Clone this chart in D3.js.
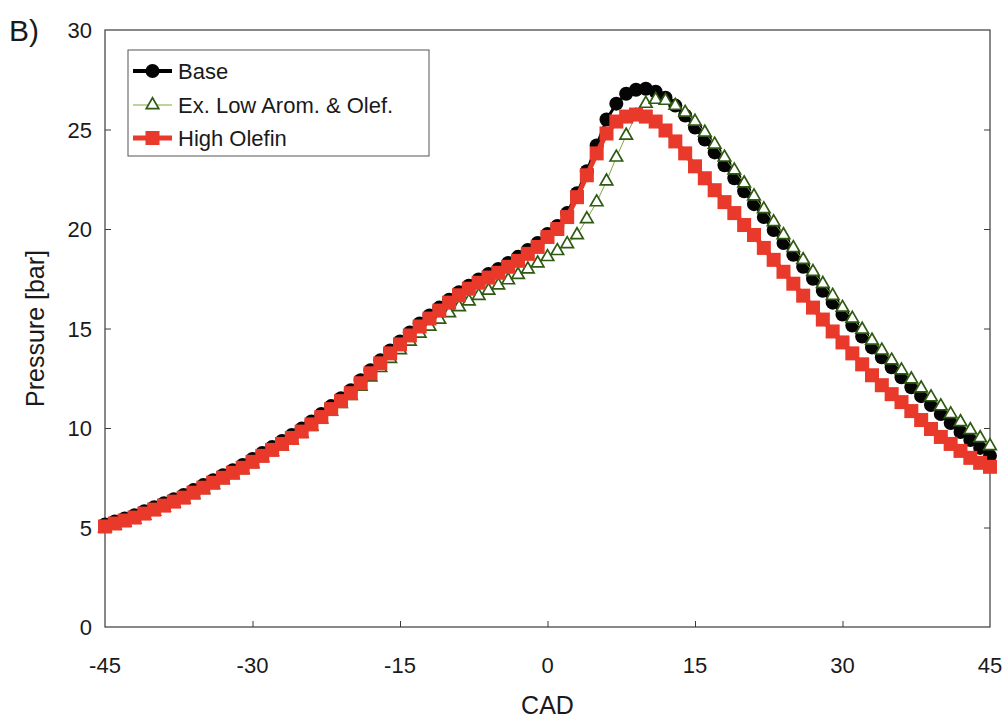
<!DOCTYPE html>
<html lang="en">

<head>
  <meta charset="UTF-8">
  <title>Pressure vs CAD</title>
  <style>
    body { margin: 0; background: #fff; }
    text { font-family: "Liberation Sans", Arial, sans-serif; fill: #1a1a1a; }
  </style>
</head>

<body>
  <div id="chart"></div>

  <script src="https://d3js.org/d3.v7.min.js"></script>

  <script>

    // crank angle positions
    const cad = [-45, -44, -43, -42, -41, -40, -39, -38, -37, -36, -35, -34, -33, -32, -31,
      -30, -29, -28, -27, -26, -25, -24, -23, -22, -21, -20, -19, -18, -17, -16,
      -15, -14, -13, -12, -11, -10, -9, -8, -7, -6, -5, -4, -3, -2, -1,
      0, 1, 2, 3, 4, 5, 6, 7, 8, 9, 10, 11, 12, 13, 14,
      15, 16, 17, 18, 19, 20, 21, 22, 23, 24, 25, 26, 27, 28, 29,
      30, 31, 32, 33, 34, 35, 36, 37, 38, 39, 40, 41, 42, 43, 44, 45]

    // pressure [bar]
    const base = [5.15, 5.3, 5.45, 5.62, 5.82, 6.02, 6.22, 6.42, 6.63, 6.88, 7.13, 7.38, 7.63, 7.88, 8.14,
      8.44, 8.74, 9.04, 9.35, 9.65, 9.97, 10.33, 10.7, 11.1, 11.5, 11.9, 12.4, 12.9, 13.4, 13.9,
      14.35, 14.8, 15.25, 15.65, 16.05, 16.45, 16.82, 17.15, 17.46, 17.74, 17.99, 18.29, 18.6, 18.95, 19.3,
      19.75, 20.15, 20.8, 21.8, 22.9, 24.2, 25.5, 26.3, 26.8, 27.0, 27.05, 26.9, 26.6, 26.2, 25.7,
      25.1, 24.5, 23.85, 23.2, 22.55, 21.9, 21.25, 20.6, 19.95, 19.3, 18.7, 18.1, 17.5, 16.9, 16.3,
      15.7, 15.15, 14.6, 14.05, 13.55, 13.05, 12.55, 12.05, 11.6, 11.15, 10.7, 10.25, 9.8, 9.4, 9.0, 8.6]

    const exLow = [4.97, 5.1, 5.25, 5.4, 5.6, 5.8, 6.0, 6.2, 6.4, 6.65, 6.9, 7.15, 7.4, 7.65, 7.9,
      8.2, 8.5, 8.8, 9.1, 9.4, 9.72, 10.08, 10.45, 10.83, 11.22, 11.62, 12.08, 12.55, 13.02, 13.48,
      13.92, 14.35, 14.75, 15.1, 15.45, 15.78, 16.08, 16.37, 16.65, 16.91, 17.17, 17.43, 17.7, 17.98, 18.28,
      18.6, 18.9, 19.25, 19.7, 20.5, 21.35, 22.4, 23.6, 24.7, 25.7, 26.3, 26.5, 26.45, 26.2, 25.85,
      25.4, 24.85, 24.25, 23.6, 22.95, 22.3, 21.65, 21.0, 20.35, 19.7, 19.05, 18.45, 17.85, 17.25, 16.65,
      16.05, 15.5, 14.95, 14.4, 13.9, 13.4, 12.9, 12.45, 12.0, 11.55, 11.1, 10.7, 10.3, 9.9, 9.5, 9.1]

    const highOlefin = [5.05, 5.2, 5.35, 5.5, 5.7, 5.9, 6.1, 6.3, 6.5, 6.75, 7.0, 7.25, 7.5, 7.75, 8.0,
      8.3, 8.6, 8.9, 9.2, 9.5, 9.82, 10.18, 10.55, 10.95, 11.35, 11.75, 12.25, 12.75, 13.25, 13.75,
      14.2, 14.65, 15.1, 15.5, 15.9, 16.3, 16.67, 17.0, 17.3, 17.56, 17.8, 18.1, 18.4, 18.75, 19.1,
      19.6, 20.0, 20.6, 21.6, 22.7, 23.8, 24.8, 25.4, 25.65, 25.75, 25.65, 25.4, 24.95, 24.4, 23.8,
      23.15, 22.55, 21.95, 21.35, 20.8, 20.2, 19.7, 19.05, 18.45, 17.85, 17.25, 16.65, 16.05, 15.45, 14.85,
      14.3, 13.75, 13.2, 12.65, 12.15, 11.7, 11.3, 10.85, 10.4, 9.95, 9.55, 9.2, 8.85, 8.5, 8.25, 8.05]

    const xTicks = [-45, -30, -15, 0, 15, 30, 45]
    const yTicks = [0, 5, 10, 15, 20, 25, 30]
    const seriesNames = ["Base", "Ex. Low Arom. & Olef.", "High Olefin"]

    // plot area
    const W = 1008, H = 719
    const MARGIN = { LEFT: 105, RIGHT: 18, TOP: 30, BOTTOM: 92 }

    const svg = d3.select("#chart").append("svg")
      .attr("width", W)
      .attr("height", H)

    const x = d3.scaleLinear()
      .domain([-45, 45])
      .range([MARGIN.LEFT, W - MARGIN.RIGHT])

    const y = d3.scaleLinear()
      .domain([0, 30])
      .range([H - MARGIN.BOTTOM, MARGIN.TOP])

    const RED = "#e8392b"
    const GREEN_DARK = "#2f5a12"
    const GREEN_LINE = "#7ea83a"

    // frame
    svg.append("rect")
      .attr("x", x(-45))
      .attr("y", y(30))
      .attr("width", x(45) - x(-45))
      .attr("height", y(0) - y(30))
      .attr("fill", "none")
      .attr("stroke", "#3a3a3a")
      .attr("stroke-width", 1.2)

    // axes (ticks point inward, labels drawn separately)
    const xAxis = d3.axisTop(x).tickValues(xTicks.slice(1, -1)).tickSize(6).tickFormat("")
    svg.append("g")
      .attr("transform", `translate(0, ${y(0)})`)
      .call(xAxis)
      .call(g => g.select(".domain").remove())
      .selectAll("line").attr("stroke", "#3a3a3a")

    const yAxisL = d3.axisRight(y).tickValues(yTicks.slice(1, -1)).tickSize(6).tickFormat("")
    svg.append("g")
      .attr("transform", `translate(${x(-45)}, 0)`)
      .call(yAxisL)
      .call(g => g.select(".domain").remove())
      .selectAll("line").attr("stroke", "#3a3a3a")

    const yAxisR = d3.axisLeft(y).tickValues(yTicks.slice(1, -1)).tickSize(6).tickFormat("")
    svg.append("g")
      .attr("transform", `translate(${x(45)}, 0)`)
      .call(yAxisR)
      .call(g => g.select(".domain").remove())
      .selectAll("line").attr("stroke", "#3a3a3a")

    // tick labels
    svg.append("g").selectAll("text")
      .data(xTicks).enter()
      .append("text")
      .attr("x", d => x(d))
      .attr("y", y(0) + 46)
      .attr("text-anchor", "middle")
      .attr("font-size", "22px")
      .text(d => d)

    svg.append("g").selectAll("text")
      .data(yTicks).enter()
      .append("text")
      .attr("x", x(-45) - 13)
      .attr("y", d => y(d) + 8)
      .attr("text-anchor", "end")
      .attr("font-size", "22px")
      .text(d => d)

    // axis titles
    svg.append("text")
      .attr("x", x(0))
      .attr("y", 714)
      .attr("text-anchor", "middle")
      .attr("font-size", "25px")
      .text("CAD")

    svg.append("text")
      .attr("transform", `translate(44, ${y(15)}) rotate(-90)`)
      .attr("text-anchor", "middle")
      .attr("font-size", "25px")
      .text("Pressure [bar]")

    svg.append("text")
      .attr("x", 9)
      .attr("y", 41)
      .attr("font-size", "30px")
      .text("B)")

    // data rows
    const rows = cad.map((c, i) => ({ cad: c, base: base[i], ex: exLow[i], ho: highOlefin[i] }))

    const line = key => d3.line().x(d => x(d.cad)).y(d => y(d[key]))

    // Base: black line + circles
    svg.append("path")
      .datum(rows)
      .attr("d", line("base"))
      .attr("fill", "none")
      .attr("stroke", "#000")
      .attr("stroke-width", 3)

    svg.append("g").selectAll("circle")
      .data(rows).enter()
      .append("circle")
      .attr("cx", d => x(d.cad))
      .attr("cy", d => y(d.base))
      .attr("r", 7)
      .attr("fill", "#050505")

    // Ex. Low Arom. & Olef.: thin green line + open triangles
    svg.append("path")
      .datum(rows)
      .attr("d", line("ex"))
      .attr("fill", "none")
      .attr("stroke", GREEN_LINE)
      .attr("stroke-width", 1)

    const tri = d3.symbol().type(d3.symbolTriangle).size(68)
    svg.append("g").selectAll("path")
      .data(rows).enter()
      .append("path")
      .attr("d", tri)
      .attr("transform", d => `translate(${x(d.cad)}, ${y(d.ex)})`)
      .attr("fill", "#fff")
      .attr("stroke", GREEN_DARK)
      .attr("stroke-width", 1.7)

    // High Olefin: red line + squares
    svg.append("path")
      .datum(rows)
      .attr("d", line("ho"))
      .attr("fill", "none")
      .attr("stroke", RED)
      .attr("stroke-width", 5)

    svg.append("g").selectAll("rect")
      .data(rows).enter()
      .append("rect")
      .attr("x", d => x(d.cad) - 7)
      .attr("y", d => y(d.ho) - 7)
      .attr("width", 14)
      .attr("height", 14)
      .attr("fill", RED)

    // legend
    const lg = svg.append("g").attr("transform", "translate(128, 50)")
    lg.append("rect")
      .attr("width", 301)
      .attr("height", 106)
      .attr("fill", "#fff")
      .attr("stroke", "#555")
      .attr("stroke-width", 1)

    const rowY = [21, 55, 88]

    // base entry
    lg.append("line").attr("x1", 5).attr("x2", 44).attr("y1", rowY[0]).attr("y2", rowY[0])
      .attr("stroke", "#000").attr("stroke-width", 4)
    lg.append("circle").attr("cx", 24.5).attr("cy", rowY[0]).attr("r", 7).attr("fill", "#050505")

    // ex entry
    lg.append("line").attr("x1", 5).attr("x2", 44).attr("y1", rowY[1]).attr("y2", rowY[1])
      .attr("stroke", GREEN_LINE).attr("stroke-width", 1)
    lg.append("path").attr("d", tri).attr("transform", `translate(24.5, ${rowY[1]})`)
      .attr("fill", "#fff").attr("stroke", GREEN_DARK).attr("stroke-width", 1.7)

    // high olefin entry
    lg.append("line").attr("x1", 5).attr("x2", 44).attr("y1", rowY[2]).attr("y2", rowY[2])
      .attr("stroke", RED).attr("stroke-width", 5)
    lg.append("rect").attr("x", 17.5).attr("y", rowY[2] - 7).attr("width", 14).attr("height", 14)
      .attr("fill", RED)

    lg.selectAll("text.lbl")
      .data(seriesNames).enter()
      .append("text")
      .attr("class", "lbl")
      .attr("x", 50)
      .attr("y", (d, i) => rowY[i] + 8)
      .attr("font-size", "22px")
      .text(d => d)

  </script>

</body>

</html>
